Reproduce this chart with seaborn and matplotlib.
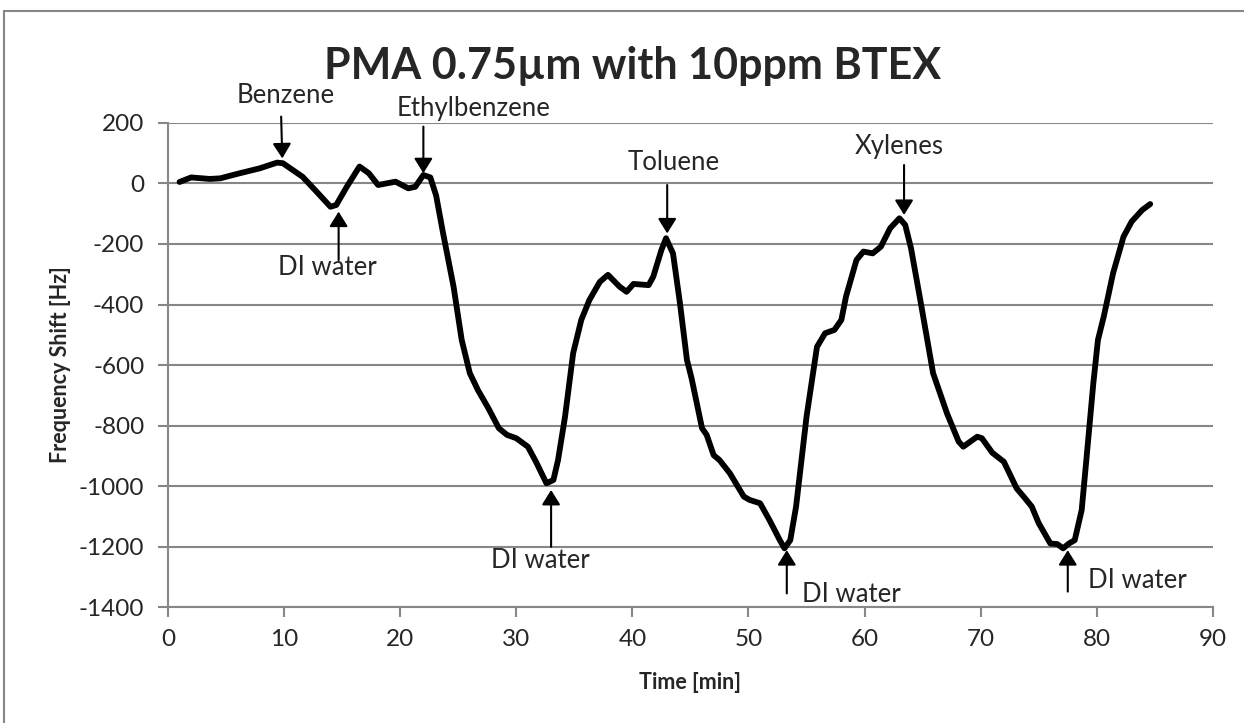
import pandas as pd
import matplotlib
matplotlib.use("Agg")
import matplotlib.pyplot as plt
import seaborn as sns

time_min = [1.0, 2.0, 3.6, 4.5, 6.2, 7.9, 9.4, 9.9, 11.6, 12.8,
            14.0, 14.5, 15.4, 16.5, 17.3, 18.1, 19.6, 20.7, 21.3, 22.0,
            22.6, 23.1, 23.7, 24.6, 25.3, 26.0, 26.7, 27.6, 28.5, 29.2,
            30.0, 31.0, 31.7, 32.6, 33.2, 33.6, 34.2, 34.9, 35.6, 36.3,
            37.2, 37.9, 38.9, 39.5, 40.1, 41.4, 41.8, 42.5, 42.9, 43.5,
            44.1, 44.7, 45.1, 46.0, 46.4, 47.0, 47.5, 48.4, 49.6, 50.1,
            51.0, 51.8, 52.7, 53.1, 53.6, 54.1, 55.0, 55.9, 56.6, 57.4,
            58.0, 58.4, 59.3, 59.9, 60.7, 61.4, 62.2, 63.0, 63.5, 64.0,
            64.9, 65.9, 67.1, 68.1, 68.5, 69.7, 70.1, 71.0, 72.0, 73.1,
            73.7, 74.4, 75.0, 76.0, 76.6, 77.1, 77.6, 78.1, 78.7, 79.1,
            79.7, 80.1, 80.6, 81.4, 82.3, 83.0, 83.9, 84.6]
shift_hz = [5, 20, 15, 17, 34, 50, 69, 67, 22, -27,
            -77, -71, -11, 56, 34, -5, 6, -16, -11, 28,
            20, -40, -165, -341, -517, -627, -683, -743, -809, -831,
            -842, -870, -920, -991, -980, -914, -771, -561, -451, -385,
            -325, -302, -341, -358, -332, -336, -308, -220, -181, -231,
            -396, -583, -644, -809, -831, -898, -914, -958, -1035, -1046,
            -1057, -1112, -1179, -1206, -1179, -1068, -771, -540, -495, -484,
            -451, -374, -253, -225, -231, -209, -148, -115, -137, -214,
            -407, -627, -760, -853, -870, -837, -842, -890, -920, -1008,
            -1035, -1068, -1123, -1190, -1192, -1206, -1190, -1179, -1079, -914,
            -661, -517, -440, -297, -176, -126, -88, -68]

# annotations: label, text position (baseline), arrow tail, arrow tip
labels = ["Benzene", "DI water", "Ethylbenzene", "Toluene",
          "DI water", "Xylenes", "DI water", "DI water"]
text_xy = [(10.1, 266), (13.7, -302), (26.35, 223), (43.6, 45),
           (32.1, -1272), (63.0, 98), (58.9, -1382), (83.5, -1338)]
tail_xy = [(9.75, 221), (14.7, -253), (22.0, 188), (43.0, -5),
           (33.0, -1201), (63.4, 61), (53.3, -1355), (77.5, -1349)]
tip_xy = [(9.85, 83), (14.7, -93), (22.0, 34), (43.0, -165),
          (33.0, -1013), (63.4, -104), (53.3, -1212), (77.5, -1212)]

df = pd.DataFrame({"Time": time_min, "Shift": shift_hz})

sns.set_style("white")
plt.rcParams['font.family'] = ['Lato', 'DejaVu Sans']
plt.rcParams['axes.unicode_minus'] = False

fig = plt.figure(figsize=(12.44, 7.23), dpi=100)
ax = fig.add_axes([0.135, 0.1604, 0.84, 0.6695])

grid_col = "#878787"
ax.set_yticks(range(-1400, 201, 200))
ax.set_xticks(range(0, 91, 10))
ax.set_xlim(0, 90)
ax.set_ylim(-1400, 200)
ax.yaxis.grid(True, color=grid_col, linewidth=1.5)
ax.set_axisbelow(True)

sns.lineplot(data=df, x="Time", y="Shift", ax=ax, color="black",
             linewidth=4.2, solid_joinstyle="round", solid_capstyle="round")

for lab, txy, a, b in zip(labels, text_xy, tail_xy, tip_xy):
    ax.text(txy[0], txy[1], lab, fontsize=18.5, ha="center", va="baseline")
    ax.annotate("", xy=b, xytext=a,
                arrowprops=dict(arrowstyle="-|>,head_length=0.45,head_width=0.28",
                                mutation_scale=20, color="black", lw=1.5,
                                shrinkA=0, shrinkB=0))

for s in ["top", "right"]:
    ax.spines[s].set_visible(False)
for s in ["left", "bottom"]:
    ax.spines[s].set_color(grid_col)
    ax.spines[s].set_linewidth(1.5)
ax.tick_params(axis="both", direction="out", length=7, width=1.5,
               color=grid_col, labelsize=17.5)
ax.tick_params(axis="y", pad=10)
ax.tick_params(axis="x", pad=9)
ax.tick_params(axis="both", left=True, bottom=True)

ax.set_xlabel("Time [min]", fontsize=15.5, fontweight="bold")
ax.set_ylabel("Frequency Shift [Hz]", fontsize=15.5, fontweight="bold")
ax.xaxis.label.set_va("center")
ax.yaxis.label.set_va("center")
ax.xaxis.set_label_coords(0.5, -0.155)
ax.yaxis.set_label_coords(-0.1024, 0.5)

fig.text(0.5088, 0.9087, "PMA 0.75µm with 10ppm BTEX", fontsize=31,
         fontweight="bold", ha="center", va="center")

# chart frame
fig.patches.append(plt.Rectangle((0.003, -0.05), 1.2, 1.035, transform=fig.transFigure,
                                 fill=False, edgecolor=grid_col, linewidth=1.5))

fig.savefig("out.png", dpi=100)
